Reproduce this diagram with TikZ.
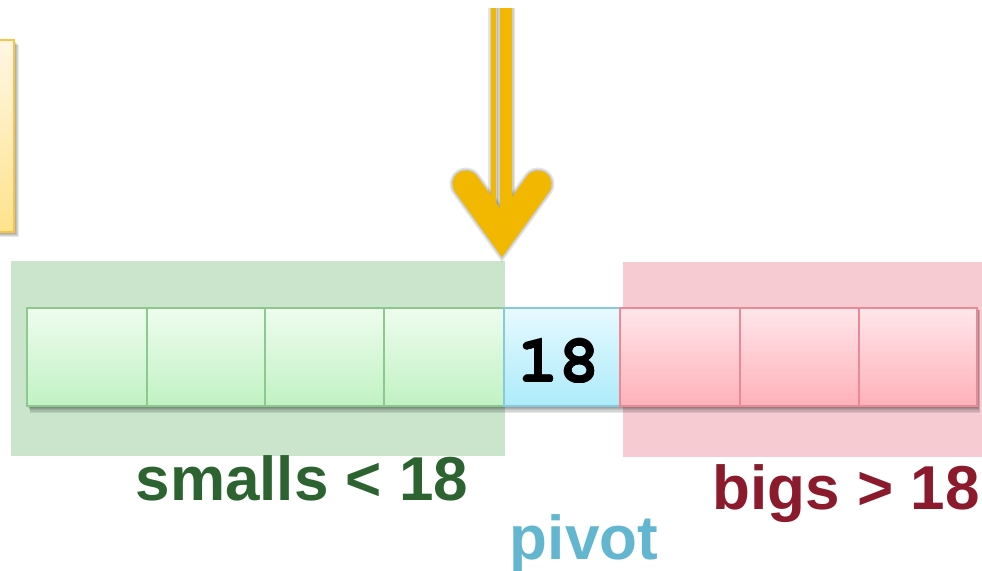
\documentclass[tikz,border=0pt]{standalone}
\usepackage{fontspec}
\setmainfont{Liberation Sans}
\newcommand\pivotfont{\fontencoding{T1}\fontfamily{pcr}\fontseries{b}\selectfont}

\definecolor{zoneGreen}{HTML}{CAE5CC}
\definecolor{zoneRed}{HTML}{F6CCD2}
\definecolor{gTop}{HTML}{EEFCEE}
\definecolor{gBot}{HTML}{C1F2C3}
\definecolor{gEdge}{HTML}{8CC98E}
\definecolor{bTop}{HTML}{E6F9FF}
\definecolor{bBot}{HTML}{ADEBFA}
\definecolor{bEdge}{HTML}{88C9DB}
\definecolor{rTop}{HTML}{FFE6EA}
\definecolor{rBot}{HTML}{FFB1B9}
\definecolor{rEdge}{HTML}{E98A96}
\definecolor{txtGreen}{HTML}{2D6331}
\definecolor{txtRed}{HTML}{8C1A2D}
\definecolor{txtBlue}{HTML}{63B6CF}
\definecolor{arrowGold}{HTML}{F2B800}
\definecolor{noteTop}{HTML}{FFF7E4}
\definecolor{noteBot}{HTML}{FFE28C}
\definecolor{noteEdge}{HTML}{F6C640}

\tikzset{
  zone/.style={draw=none, inner sep=0pt, minimum height=195pt},
  cell/.style={inner sep=0pt, minimum height=98pt, line width=1.5pt},
  smallcell/.style={cell, draw=gEdge, top color=gTop, bottom color=gBot},
  pivotcell/.style={cell, draw=bEdge, top color=bTop, bottom color=bBot},
  bigcell/.style={cell, draw=rEdge, top color=rTop, bottom color=rBot},
  label/.style={inner sep=0pt, anchor=base, font=\fontsize{62}{62}\selectfont\bfseries},
  valuetext/.style={inner sep=0pt, anchor=base, font=\pivotfont\fontsize{68}{68}\selectfont},
  arrowline/.style={draw=arrowGold},
  arrowshade/.style={draw=black, opacity=0.10},
  softshade/.style={fill=black, opacity=0.09},
}

\begin{document}
\begin{tikzpicture}[x=1pt, y=-1pt]
  \useasboundingbox (0,0) rectangle (982,570);

  % note card cut by the left edge, with its soft shadow
  \foreach \d in {1,2,3,4,5}
    \fill[softshade] (-40,40+\d) rectangle (14+\d,232+\d);
  \node[inner sep=0pt, minimum width=40pt, minimum height=192pt,
        draw=noteEdge, line width=2pt, top color=noteTop, bottom color=noteBot]
        (note) at (-6,136) {};

  % partition zones
  \node[zone, fill=zoneGreen, minimum width=494pt] (smallzone) at (258,358.5) {};
  \node[zone, fill=zoneRed, minimum width=359pt] (bigzone) at (802.5,359.5) {};

  % shadow under the row of cells
  \foreach \d in {1,2,3,4,5,6}
    \fill[softshade] (27+0.5*\d,310) rectangle (977+0.5*\d,405+1.3*\d);

  % array cells
  \node[smallcell, minimum width=120pt] (c1) at (87,357) {};
  \node[smallcell, minimum width=118pt] (c2) at (206,357) {};
  \node[smallcell, minimum width=119pt] (c3) at (324.5,357) {};
  \node[smallcell, minimum width=120pt] (c4) at (444,357) {};
  \node[pivotcell, minimum width=116pt] (c5) at (562,357) {};
  \node[bigcell, minimum width=120pt] (c6) at (680,357) {};
  \node[bigcell, minimum width=119pt] (c7) at (799.5,357) {};
  \node[bigcell, minimum width=118pt] (c8) at (918,357) {};

  % pivot value, struck a few times to give it a heavier stroke
  \foreach \dx/\dy in {-0.7/0, 0.7/0, 0/-0.7, 0/0.7}
    \node[valuetext] at (559+\dx,382+\dy) {18};
  \node[valuetext] (pv) at (559,382) {18};

  % labels
  \node[label, text=txtGreen] (lsmall) at (302,500) {smalls < 18};
  \node[label, text=txtRed] (lbig) at (846,509) {bigs > 18};
  \node[label, text=txtBlue] (lpivot) at (584,559) {pivot};

  % insertion arrow
  \coordinate (thinTop) at (493.5,8);
  \coordinate (thinEnd) at (493.5,222);
  \coordinate (thickTop) at (506,8);
  \coordinate (thickEnd) at (506,222);
  \coordinate (armL) at (466,184);
  \coordinate (tip) at (502,234);
  \coordinate (armR) at (538,184);

  \begin{scope}[shift={(4,4)}]
    \foreach \w in {0,3,6} {
      \draw[arrowshade, line width=5pt+\w pt] (thinTop) -- (thinEnd);
      \draw[arrowshade, line width=12pt+\w pt] (thickTop) -- (thickEnd);
      \draw[arrowshade, line width=27pt+\w pt, line cap=round, line join=miter]
        (armL) -- (tip) -- (armR);
    }
  \end{scope}
  \draw[arrowline, line width=5pt] (thinTop) -- (thinEnd);
  \draw[arrowline, line width=12pt] (thickTop) -- (thickEnd);
  \draw[arrowline, line width=27pt, line cap=round, line join=miter]
    (armL) -- (tip) -- (armR);
\end{tikzpicture}
\end{document}
